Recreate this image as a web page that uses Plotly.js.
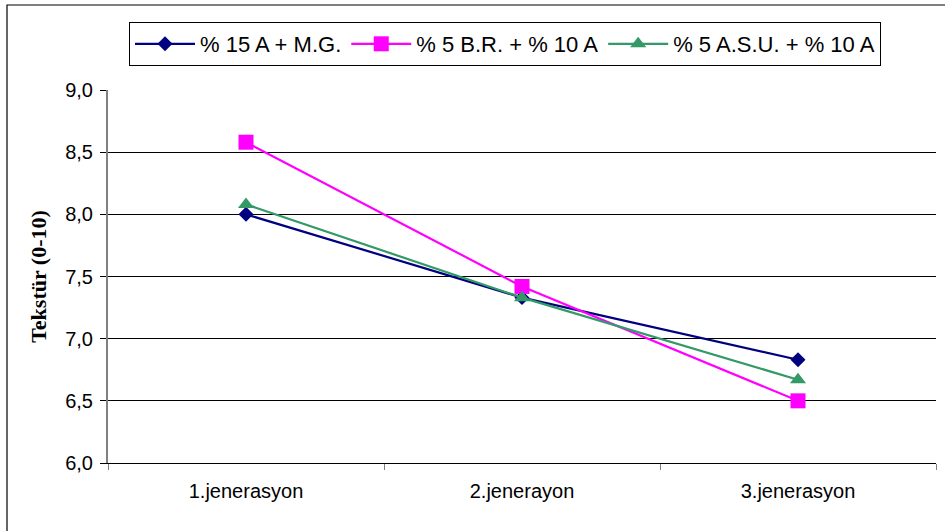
<!DOCTYPE html>
<html>
<head>
<meta charset="utf-8">
<script src="https://cdn.plot.ly/plotly-3.0.1.min.js"></script>
<style>
html,body{margin:0;padding:0;background:#fff;}
#chart{width:945px;height:531px;}
</style>
</head>
<body>
<div id="chart"></div>
<script>
const categories = ["1.jenerasyon", "2.jenerayon", "3.jenerasyon"];
const seriesNames = ["% 15 A + M.G.", "% 5 B.R. + % 10 A", "% 5 A.S.U. + % 10 A"];
const s1 = [8.00, 7.33, 6.83];
const s2 = [8.58, 7.42, 6.50];
const s3 = [8.08, 7.33, 6.67];
const yTitle = "Tekstür (0-10)";

const colors = ["#000080", "#FF00FF", "#339966"];
const symbols = ["diamond", "square", "triangle-up"];
const sizes = [11.5, 15, 14];
const vals = [s1, s2, s3];

const traces = vals.map((v, i) => ({
  x: categories,
  y: v,
  name: seriesNames[i],
  type: "scatter",
  mode: "lines+markers",
  line: {color: colors[i], width: 2.2},
  marker: {symbol: symbols[i], size: sizes[i], color: colors[i]}
}));

// plot area: x 108..936, y 90..463
const L = 108, R = 936, T = 90, B = 463;
const W = R - L, H = B - T;
const px = x => (x - L) / W;
const py = y => (B - y) / H;

const layout = {
  width: 945, height: 531,
  margin: {l: L, r: 945 - R, t: T, b: 531 - B},
  paper_bgcolor: "#fff",
  plot_bgcolor: "#fff",
  separators: ",.",
  font: {family: "Liberation Sans, Arial, sans-serif", size: 20, color: "#000"},
  showlegend: true,
  legend: {
    orientation: "h",
    x: px(129), y: py(22), xanchor: "left", yanchor: "top",
    bordercolor: "#000", borderwidth: 1, bgcolor: "#fff",
    font: {family: "Liberation Sans, Arial, sans-serif", size: 22, color: "#000"},
    itemwidth: 60
  },
  xaxis: {
    type: "category",
    range: [-0.5, 2.5],
    tickson: "boundaries",
    ticks: "outside", ticklen: 6, tickcolor: "#808080", tickwidth: 1,
    showline: true, linecolor: "#000", linewidth: 1,
    showgrid: false, zeroline: false,
    tickfont: {size: 20},
    ticklabelstandoff: 10,
    fixedrange: true
  },
  yaxis: {
    range: [6, 9],
    dtick: 0.5, tick0: 6,
    tickformat: ".1f",
    ticks: "outside", ticklen: 6, tickcolor: "#000", tickwidth: 1,
    showline: true, linecolor: "#808080", linewidth: 2,
    showgrid: true, gridcolor: "#000", gridwidth: 1,
    zeroline: false,
    tickfont: {size: 20},
    ticklabelstandoff: 3,
    title: {text: yTitle, font: {family: "Liberation Serif, Times New Roman, serif", size: 22, weight: "bold"}, standoff: 12},
    automargin: false,
    fixedrange: true
  },
  shapes: [
    {type: "rect", xref: "paper", yref: "paper",
     x0: px(7), x1: px(960), y0: py(5), y1: py(560),
     line: {color: "#000", width: 1.2}, fillcolor: "rgba(0,0,0,0)", layer: "below"}
  ]
};

Plotly.newPlot("chart", traces, layout, {staticPlot: true, displayModeBar: false});
</script>
</body>
</html>
